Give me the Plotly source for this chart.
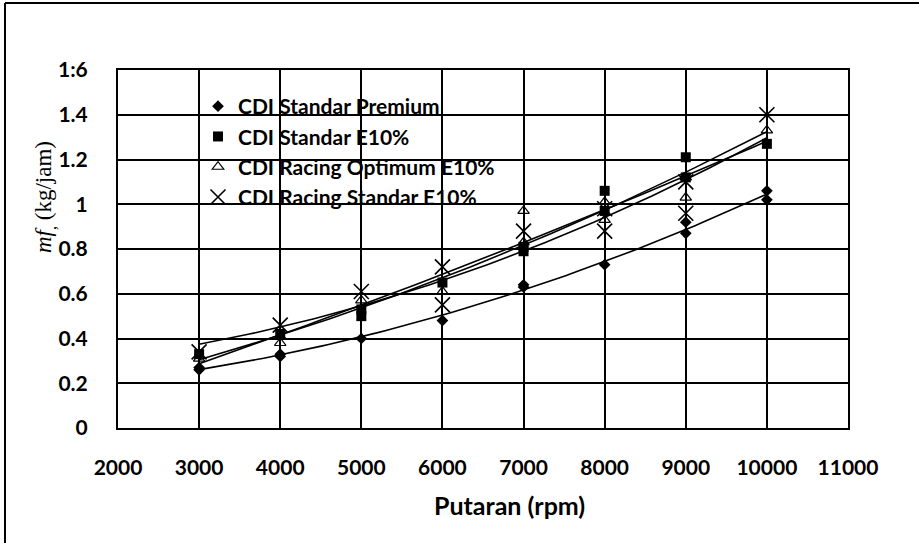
import numpy as np
import plotly.graph_objects as go

# ---- data ----
series_names = [
    "CDI Standar Premium",
    "CDI Standar E10%",
    "CDI Racing Optimum E10%",
    "CDI Racing Standar E10%",
]

premium_rpm = [3000, 3000, 4000, 4000, 5000, 6000, 7000, 7000, 8000, 9000, 9000, 10000, 10000]
premium_mf = [0.27, 0.26, 0.33, 0.32, 0.40, 0.48, 0.64, 0.63, 0.73, 0.92, 0.87, 1.06, 1.02]

std_e10_rpm = [3000, 4000, 5000, 5000, 6000, 7000, 7000, 8000, 8000, 9000, 9000, 10000]
std_e10_mf = [0.33, 0.42, 0.50, 0.53, 0.65, 0.79, 0.81, 1.06, 0.97, 1.21, 1.12, 1.27]

rac_opt_rpm = [3000, 4000, 4000, 5000, 6000, 7000, 7000, 8000, 8000, 9000, 9000, 10000]
rac_opt_mf = [0.31, 0.38, 0.41, 0.57, 0.61, 0.97, 0.83, 1.01, 0.93, 1.12, 1.03, 1.33]

rac_std_rpm = [3000, 4000, 5000, 6000, 6000, 7000, 8000, 8000, 9000, 9000, 10000]
rac_std_mf = [0.34, 0.46, 0.61, 0.72, 0.55, 0.88, 0.98, 0.88, 0.96, 1.10, 1.40]

x_ticks = [2000, 3000, 4000, 5000, 6000, 7000, 8000, 9000, 10000, 11000]
y_ticks = [0, 0.2, 0.4, 0.6, 0.8, 1.0, 1.2, 1.4, 1.6]
y_tick_text = ["0", "0.2", "0.4", "0.6", "0.8", "1", "1.2", "1.4", "1:6"]

all_x = [premium_rpm, std_e10_rpm, rac_opt_rpm, rac_std_rpm]
all_y = [premium_mf, std_e10_mf, rac_opt_mf, rac_std_mf]

markers = [
    dict(symbol="diamond", size=9, color="black"),
    dict(symbol="square", size=10, color="black"),
    dict(symbol="triangle-up-open", size=10, color="black", line=dict(width=1.2, color="black")),
    dict(symbol="x-thin-open", size=15, color="black", line=dict(width=1.6, color="black")),
]

fig = go.Figure()

# polynomial trend lines (fitted from the data, as in the original Excel chart)
for xs, ys in zip(all_x, all_y):
    coef = np.polyfit(xs, ys, 2)
    xf = np.linspace(min(xs), max(xs), 80)
    fig.add_trace(go.Scatter(x=xf, y=np.polyval(coef, xf), mode="lines",
                             line=dict(color="black", width=1.6),
                             showlegend=False, hoverinfo="skip"))

for name, xs, ys, mk in zip(series_names, all_x, all_y, markers):
    fig.add_trace(go.Scatter(x=xs, y=ys, mode="markers", name=name, marker=mk))

W, H = 919, 543
L, R, T, B = 118, 848, 70, 428
pw, ph = R - L, B - T

def px_x(p):
    return (p - L) / pw

def px_y(p):
    return (B - p) / ph

tick_font = dict(family="Lato", size=21, color="black", weight="bold")

fig.update_layout(
    width=W, height=H,
    margin=dict(l=L, r=W - R, t=T, b=H - B),
    paper_bgcolor="white", plot_bgcolor="white",
    showlegend=True,
    legend=dict(x=px_x(198), y=px_y(86), xanchor="left", yanchor="top",
                bgcolor="rgba(0,0,0,0)", font=dict(family="Lato", size=21, color="black", weight="bold"),
                itemwidth=30, tracegroupgap=0),
    xaxis=dict(range=[2000, 11000], tickvals=x_ticks, ticktext=[str(v) for v in x_ticks],
               showgrid=True, gridcolor="black", gridwidth=2,
               showline=True, linecolor="black", linewidth=2, mirror=True,
               zeroline=False, ticks="", tickfont=tick_font, ticklabelstandoff=20),
    yaxis=dict(range=[0, 1.6], tickvals=y_ticks, ticktext=y_tick_text,
               showgrid=True, gridcolor="black", gridwidth=2,
               showline=True, linecolor="black", linewidth=2, mirror=True,
               zeroline=False, ticks="", tickfont=tick_font, ticklabelstandoff=24),
    annotations=[
        dict(text="Putaran (rpm)", x=px_x(509), y=px_y(505), xref="paper", yref="paper",
             showarrow=False, xanchor="center", yanchor="middle",
             font=dict(family="Lato", size=25, color="black", weight="bold")),
        dict(text="<i>mf</i><sub>,</sub> (kg/jam)", x=px_x(45), y=px_y(197), xref="paper", yref="paper",
             showarrow=False, xanchor="center", yanchor="middle", textangle=-90,
             font=dict(family="Liberation Serif", size=23, color="black")),
    ],
    shapes=[
        dict(type="line", xref="paper", yref="paper", x0=px_x(5), x1=px_x(919), y0=px_y(3), y1=px_y(3),
             line=dict(color="black", width=2)),
        dict(type="line", xref="paper", yref="paper", x0=px_x(5), x1=px_x(5), y0=px_y(3), y1=px_y(543),
             line=dict(color="black", width=2)),
    ],
)

fig.write_html("out.html", config={"displayModeBar": False},
               post_script="document.body.style.margin='0px';")
